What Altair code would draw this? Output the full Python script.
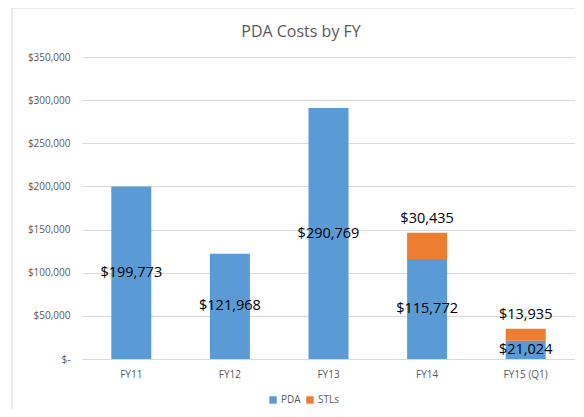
import altair as alt
import pandas as pd

categories = ["FY11", "FY12", "FY13", "FY14", "FY15 (Q1)"]
pda = [199773, 121968, 290769, 115772, 21024]
stls = [0, 0, 0, 30435, 13935]
series = ["PDA", "STLs"]
colors = ["#5B9BD5", "#ED7D31"]
title_text = "PDA Costs by FY"

rows = []
for c, p, s in zip(categories, pda, stls):
    rows.append({"FY": c, "Series": "PDA", "Value": p, "order": 0})
    rows.append({"FY": c, "Series": "STLs", "Value": s, "order": 1})
df = pd.DataFrame(rows)

lab_pda = pd.DataFrame({"FY": categories, "Value": pda})
lab_pda["mid"] = lab_pda["Value"] / 2
lab_pda["txt"] = lab_pda["Value"].map(lambda v: "${:,}".format(v))

lab_stl = pd.DataFrame({"FY": categories, "Value": stls, "PDA": pda})
lab_stl = lab_stl[lab_stl["Value"] > 0].copy()
lab_stl["top"] = lab_stl["Value"] + lab_stl["PDA"]
lab_stl["txt"] = lab_stl["Value"].map(lambda v: "${:,}".format(v))

FONT = "Open Sans"

x_enc = alt.X("FY:N", sort=categories, title=None,
              axis=alt.Axis(labelAngle=0, labelColor="#595959", labelFontSize=10,
                            labelFont=FONT, ticks=False, domainColor="#d9d9d9",
                            labelPadding=10))

frame = alt.Chart(pd.DataFrame({"a": [0]})).mark_rect(
    fill=None, stroke="#d9d9d9", strokeWidth=1
).encode(x=alt.value(-70), x2=alt.value(520), y=alt.value(-49), y2=alt.value(360))

title = alt.Chart(pd.DataFrame({"t": [title_text]})).mark_text(
    fontSize=16, font=FONT, color="#595959", baseline="middle", align="center"
).encode(x=alt.value(219), y=alt.value(-25), text="t:N")

bars = alt.Chart(df).mark_bar(size=40).encode(
    x=x_enc,
    y=alt.Y("Value:Q", stack="zero", title=None,
            scale=alt.Scale(domain=[0, 350000]),
            axis=alt.Axis(values=list(range(0, 350001, 50000)), domain=False, ticks=False,
                          labelColor="#595959", labelFontSize=10, labelFont=FONT,
                          gridColor="#d9d9d9", labelPadding=12,
                          labelExpr="datum.value == 0 ? '$-\u00a0\u00a0' : '$' + format(datum.value, ',')")),
    color=alt.Color("Series:N", scale=alt.Scale(domain=series, range=colors),
                    legend=alt.Legend(title=None, orient="none", legendX=186, legendY=338,
                                      direction="horizontal", symbolType="square",
                                      symbolSize=55, labelFontSize=10, labelColor="#595959",
                                      labelFont=FONT, columnPadding=4, labelOffset=3,
                                      symbolStrokeWidth=0)),
    order=alt.Order("order:Q"),
)

t1 = alt.Chart(lab_pda).mark_text(fontSize=14.5, font=FONT, color="#000000").encode(
    x=alt.X("FY:N", sort=categories), y=alt.Y("mid:Q"), text="txt:N")

t2 = alt.Chart(lab_stl).mark_text(fontSize=14.5, font=FONT, color="#000000", dy=-14).encode(
    x=alt.X("FY:N", sort=categories), y=alt.Y("top:Q"), text="txt:N")

chart = alt.layer(frame, title, bars, t1, t2).properties(
    width=493, height=302,
    autosize=alt.AutoSizeParams(type="none"),
    padding={"left": 74, "top": 49, "right": 0, "bottom": 50},
).configure_view(stroke=None)

chart.save("out.html", embed_options={"renderer": "svg", "actions": False})
